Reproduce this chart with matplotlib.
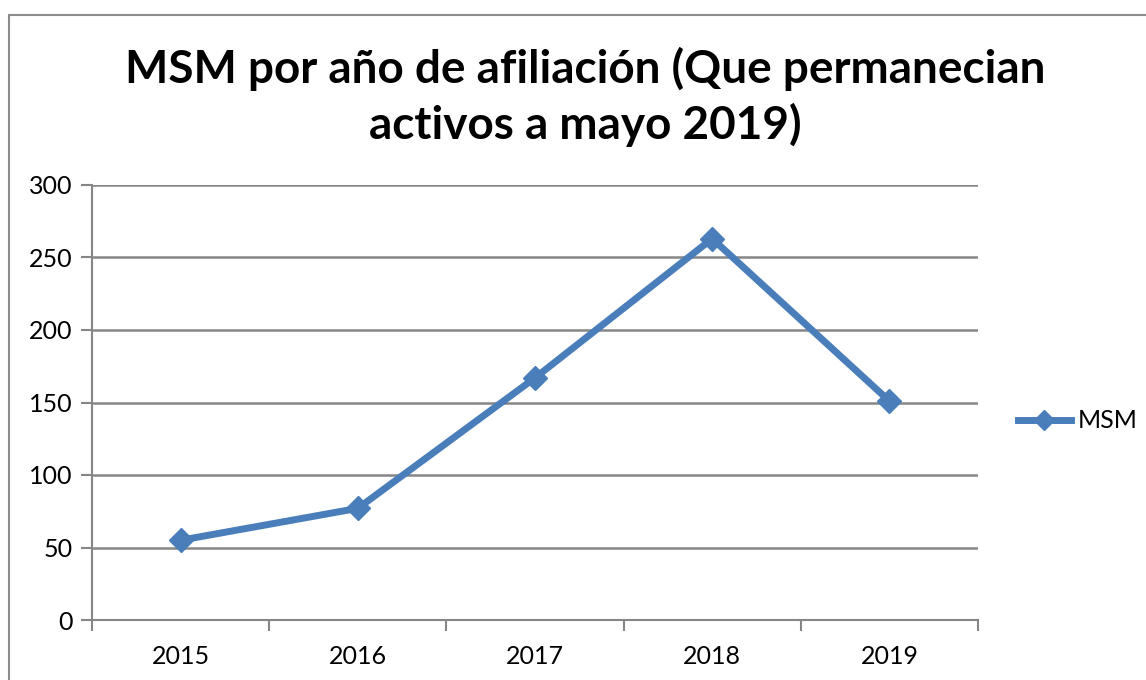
import matplotlib
matplotlib.use("Agg")
import matplotlib.pyplot as plt
from matplotlib.patches import Rectangle
from matplotlib.lines import Line2D

years = ["2015", "2016", "2017", "2018", "2019"]
msm = [55, 77, 167, 263, 151]
yticks = [0, 50, 100, 150, 200, 250, 300]

plt.rcParams['font.family'] = ['Lato', 'DejaVu Sans']

W, H = 1146, 680
fig = plt.figure(figsize=(W / 100, H / 100), dpi=100)

# chart area border (Excel style)
fig.patches.append(Rectangle((9 / W, -0.1), 1.2, (H - 15) / H + 0.1,
                             transform=fig.transFigure, fill=False,
                             edgecolor="#8c8c8c", linewidth=1.5))

ax = fig.add_axes([92 / W, (H - 620) / H, (978 - 92) / W, (620 - 185) / H])

grid_c = "#868686"
blue = "#4a7ebb"

xs = list(range(len(years)))
ax.plot(xs, msm, color=blue, linewidth=5, marker="D", markersize=12,
        markerfacecolor=blue, markeredgecolor=blue, solid_joinstyle="round",
        clip_on=False, zorder=3)

ax.set_xlim(-0.5, len(years) - 0.5)
ax.set_ylim(0, 300)
ax.set_yticks(yticks)
ax.yaxis.grid(True, color=grid_c, linewidth=1.8)
ax.set_axisbelow(True)

ax.set_xticks([i - 0.5 for i in range(len(years) + 1)])
ax.set_xticklabels([])
ax.set_xticks(xs, minor=True)
ax.set_xticklabels(years, minor=True, fontsize=18)
ax.tick_params(axis="x", which="minor", length=0, pad=18)
ax.tick_params(axis="x", which="major", length=8, width=1.5, color=grid_c)
ax.tick_params(axis="y", length=8, width=1.5, color=grid_c, labelsize=18, pad=6)

for s in ["top", "right"]:
    ax.spines[s].set_visible(False)
for s in ["left", "bottom"]:
    ax.spines[s].set_color(grid_c)
    ax.spines[s].set_linewidth(1.5)

fig.text(585 / W, 1 - 97 / H, "MSM por año de afiliación (Que permanecian\nactivos a mayo 2019)",
         ha="center", va="center", fontsize=33, fontweight="bold",
         linespacing=1.35)

# legend
leg_handle = Line2D([], [], color=blue, linewidth=5, marker="D", markersize=10,
                    markerfacecolor=blue, markeredgecolor=blue)
fig.legend([leg_handle], ["MSM"], loc="center left",
           bbox_to_anchor=(1018 / W, 1 - 421 / H), frameon=False,
           borderpad=0, borderaxespad=0,
           fontsize=18, handlelength=2.1, handletextpad=0.3)

fig.savefig("out.png", dpi=100)
